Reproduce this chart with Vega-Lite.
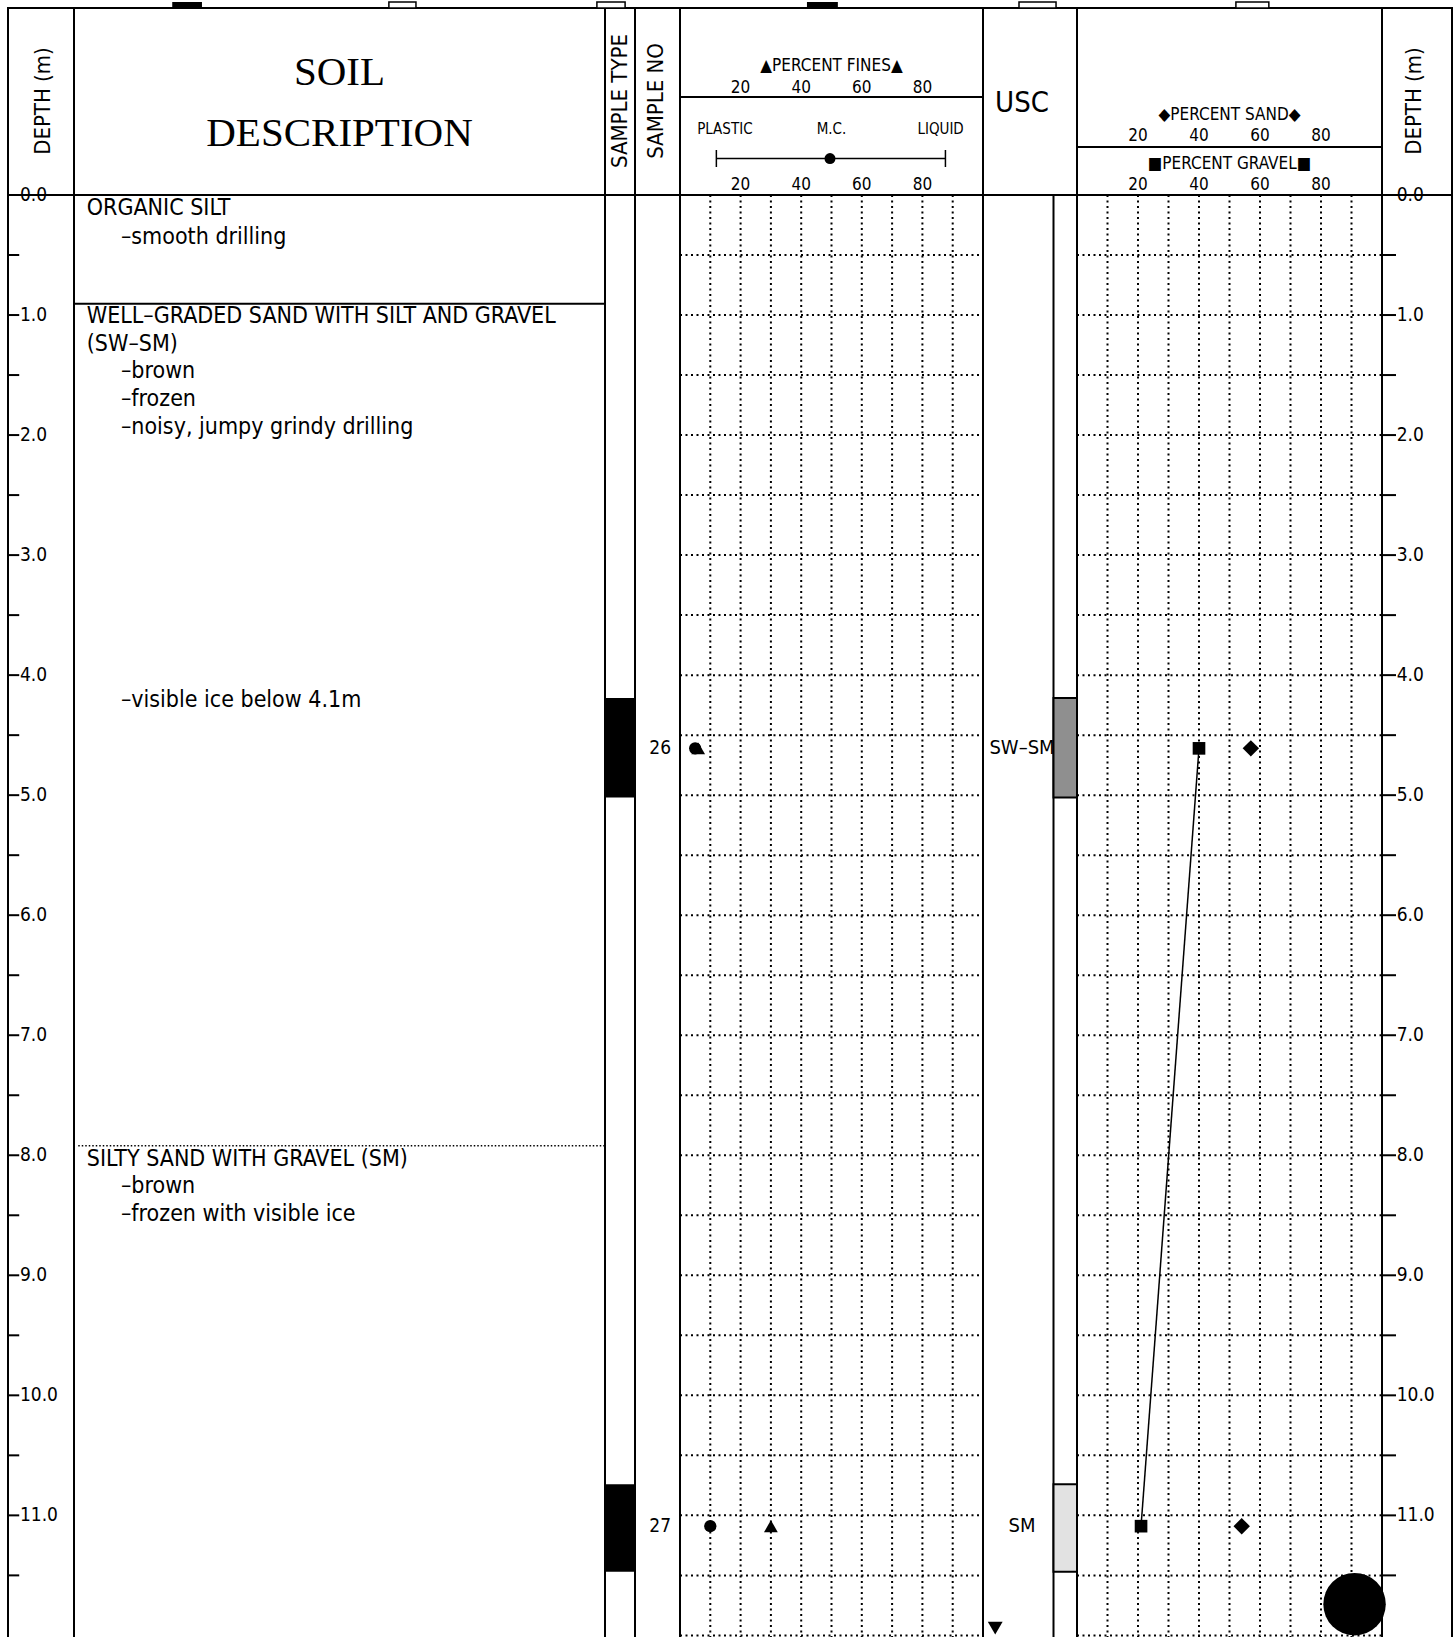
{
  "$schema": "https://vega.github.io/schema/vega-lite/v6.json",
  "padding": {"left": 6, "top": 0, "right": 0, "bottom": 0},
  "background": "white",
  "config": {
    "view": {"stroke": "black", "strokeWidth": 2},
    "text": {"font": "DejaVu Sans Condensed", "fill": "black"},
    "rule": {"color": "black", "strokeWidth": 2},
    "concat": {"spacing": 0}
  },
  "datasets": {
    "ticks": [
      {"d": 0, "lab": "0.0"}, {"d": 0.5, "lab": ""}, {"d": 1, "lab": "1.0"}, {"d": 1.5, "lab": ""},
      {"d": 2, "lab": "2.0"}, {"d": 2.5, "lab": ""}, {"d": 3, "lab": "3.0"}, {"d": 3.5, "lab": ""},
      {"d": 4, "lab": "4.0"}, {"d": 4.5, "lab": ""}, {"d": 5, "lab": "5.0"}, {"d": 5.5, "lab": ""},
      {"d": 6, "lab": "6.0"}, {"d": 6.5, "lab": ""}, {"d": 7, "lab": "7.0"}, {"d": 7.5, "lab": ""},
      {"d": 8, "lab": "8.0"}, {"d": 8.5, "lab": ""}, {"d": 9, "lab": "9.0"}, {"d": 9.5, "lab": ""},
      {"d": 10, "lab": "10.0"}, {"d": 10.5, "lab": ""}, {"d": 11, "lab": "11.0"}, {"d": 11.5, "lab": ""}
    ],
    "gy": [
      {"d": 0.5}, {"d": 1}, {"d": 1.5}, {"d": 2}, {"d": 2.5}, {"d": 3}, {"d": 3.5}, {"d": 4},
      {"d": 4.5}, {"d": 5}, {"d": 5.5}, {"d": 6}, {"d": 6.5}, {"d": 7}, {"d": 7.5}, {"d": 8},
      {"d": 8.5}, {"d": 9}, {"d": 9.5}, {"d": 10}, {"d": 10.5}, {"d": 11}, {"d": 11.5}, {"d": 12}
    ],
    "gx": [{"v": 10}, {"v": 20}, {"v": 30}, {"v": 40}, {"v": 50}, {"v": 60}, {"v": 70}, {"v": 80}, {"v": 90}],
    "pct": [{"v": 20, "l": "20"}, {"v": 40, "l": "40"}, {"v": 60, "l": "60"}, {"v": 80, "l": "80"}],
    "desc": [
      {"d": 0.105, "t": "ORGANIC SILT", "lvl": 0},
      {"d": 0.35, "t": "–smooth drilling", "lvl": 1},
      {"d": 1.01, "t": "WELL–GRADED SAND WITH SILT AND GRAVEL", "lvl": 0},
      {"d": 1.24, "t": "(SW–SM)", "lvl": 0},
      {"d": 1.47, "t": "–brown", "lvl": 1},
      {"d": 1.70, "t": "–frozen", "lvl": 1},
      {"d": 1.93, "t": "–noisy, jumpy grindy drilling", "lvl": 1},
      {"d": 4.21, "t": "–visible ice below 4.1m", "lvl": 1},
      {"d": 8.03, "t": "SILTY SAND WITH GRAVEL (SM)", "lvl": 0},
      {"d": 8.26, "t": "–brown", "lvl": 1},
      {"d": 8.49, "t": "–frozen with visible ice", "lvl": 1}
    ],
    "bounds": [{"d": 0.905, "kind": "solid"}, {"d": 7.92, "kind": "dotted"}],
    "samples": [
      {"no": "26", "top": 4.19, "bot": 5.02, "d": 4.61, "usc": "SW–SM", "mc": 5, "fines": 6, "gravel": 40, "sand": 57},
      {"no": "27", "top": 10.74, "bot": 11.47, "d": 11.09, "usc": "SM", "mc": 10, "fines": 30, "gravel": 21, "sand": 54}
    ],
    "blob": [{"pct": 91, "d": 11.74}],
    "water": [{"d": 11.94}]
  },
  "columns": 8,
  "spacing": 0,
  "bounds": "flush",
  "resolve": {"scale": {"x": "independent", "y": "independent"}},
  "concat": [
    {
      "width": 66, "height": 187,
      "data": {"values": [{}]},
      "mark": {"type": "text", "angle": 270, "fontSize": 22, "align": "center", "baseline": "middle"},
      "encoding": {
        "x": {"datum": 53, "type": "quantitative", "scale": {"domain": [0, 100], "nice": false}, "axis": null},
        "y": {"datum": 93, "type": "quantitative", "scale": {"domain": [0, 187], "reverse": true, "nice": false}, "axis": null},
        "text": {"value": "DEPTH (m)"}
      }
    },
    {
      "width": 531, "height": 187,
      "data": {"values": [{}]},
      "layer": [
        {
          "mark": {"type": "text", "font": "Liberation Serif", "fontSize": 41, "align": "center", "baseline": "middle"},
          "encoding": {
            "x": {"datum": 50, "type": "quantitative", "scale": {"domain": [0, 100], "nice": false}, "axis": null},
            "y": {"datum": 65, "type": "quantitative", "scale": {"domain": [0, 187], "reverse": true, "nice": false}, "axis": null},
            "text": {"value": "SOIL"}
          }
        },
        {
          "mark": {"type": "text", "font": "Liberation Serif", "fontSize": 41, "align": "center", "baseline": "middle"},
          "encoding": {
            "x": {"datum": 50, "type": "quantitative", "scale": {"domain": [0, 100], "nice": false}, "axis": null},
            "y": {"datum": 125.5, "type": "quantitative", "scale": {"domain": [0, 187], "reverse": true, "nice": false}, "axis": null},
            "text": {"value": "DESCRIPTION"}
          }
        },
        {
          "mark": {"type": "rect", "color": "black"},
          "encoding": {
            "x": {"datum": 18.5, "type": "quantitative", "scale": {"domain": [0, 100], "nice": false}, "axis": null},
            "x2": {"datum": 24.1},
            "y": {"datum": -6, "type": "quantitative", "scale": {"domain": [0, 187], "reverse": true, "nice": false}, "axis": null},
            "y2": {"datum": 0}
          }
        },
        {
          "mark": {"type": "rect", "fill": "white", "stroke": "black", "strokeWidth": 1.5},
          "encoding": {
            "x": {"datum": 59.3, "type": "quantitative", "scale": {"domain": [0, 100], "nice": false}, "axis": null},
            "x2": {"datum": 64.4},
            "y": {"datum": -6, "type": "quantitative", "scale": {"domain": [0, 187], "reverse": true, "nice": false}, "axis": null},
            "y2": {"datum": 0}
          }
        }
      ]
    },
    {
      "width": 30, "height": 187,
      "data": {"values": [{}]},
      "layer": [
        {
          "mark": {"type": "text", "angle": 270, "fontSize": 22, "align": "center", "baseline": "middle"},
          "encoding": {
            "x": {"datum": 50, "type": "quantitative", "scale": {"domain": [0, 100], "nice": false}, "axis": null},
            "y": {"datum": 93, "type": "quantitative", "scale": {"domain": [0, 187], "reverse": true, "nice": false}, "axis": null},
            "text": {"value": "SAMPLE TYPE"}
          }
        },
        {
          "mark": {"type": "rect", "fill": "white", "stroke": "black", "strokeWidth": 1.5},
          "encoding": {
            "x": {"datum": -27, "type": "quantitative", "scale": {"domain": [0, 100], "nice": false}, "axis": null},
            "x2": {"datum": 67},
            "y": {"datum": -6, "type": "quantitative", "scale": {"domain": [0, 187], "reverse": true, "nice": false}, "axis": null},
            "y2": {"datum": 0}
          }
        }
      ]
    },
    {
      "width": 45, "height": 187,
      "data": {"values": [{}]},
      "mark": {"type": "text", "angle": 270, "fontSize": 22, "align": "center", "baseline": "middle"},
      "encoding": {
        "x": {"datum": 47, "type": "quantitative", "scale": {"domain": [0, 100], "nice": false}, "axis": null},
        "y": {"datum": 93, "type": "quantitative", "scale": {"domain": [0, 187], "reverse": true, "nice": false}, "axis": null},
        "text": {"value": "SAMPLE NO"}
      }
    },
    {
      "width": 303, "height": 187,
      "data": {"values": [{}]},
      "layer": [
        {
          "mark": {"type": "text", "fontSize": 17, "align": "center", "baseline": "middle"},
          "encoding": {
            "x": {"datum": 50, "type": "quantitative", "scale": {"domain": [0, 100], "nice": false}, "axis": null},
            "y": {"datum": 57.7, "type": "quantitative", "scale": {"domain": [0, 187], "reverse": true, "nice": false}, "axis": null},
            "text": {"value": "▲PERCENT FINES▲"}
          }
        },
        {
          "data": {"name": "pct"},
          "mark": {"type": "text", "fontSize": 17, "align": "center", "baseline": "middle"},
          "encoding": {
            "x": {"field": "v", "type": "quantitative", "scale": {"domain": [0, 100], "nice": false}, "axis": null},
            "y": {"datum": 79.6, "type": "quantitative", "scale": {"domain": [0, 187], "reverse": true, "nice": false}, "axis": null},
            "text": {"field": "l"}
          }
        },
        {
          "mark": {"type": "rule", "strokeWidth": 2},
          "encoding": {
            "x": {"datum": 0, "type": "quantitative", "scale": {"domain": [0, 100], "nice": false}, "axis": null},
            "x2": {"datum": 100},
            "y": {"datum": 89, "type": "quantitative", "scale": {"domain": [0, 187], "reverse": true, "nice": false}, "axis": null}
          }
        },
        {
          "mark": {"type": "text", "fontSize": 15, "align": "center", "baseline": "middle"},
          "encoding": {
            "x": {"datum": 14.8, "type": "quantitative", "scale": {"domain": [0, 100], "nice": false}, "axis": null},
            "y": {"datum": 121.3, "type": "quantitative", "scale": {"domain": [0, 187], "reverse": true, "nice": false}, "axis": null},
            "text": {"value": "PLASTIC"}
          }
        },
        {
          "mark": {"type": "text", "fontSize": 15, "align": "center", "baseline": "middle"},
          "encoding": {
            "x": {"datum": 50, "type": "quantitative", "scale": {"domain": [0, 100], "nice": false}, "axis": null},
            "y": {"datum": 121.3, "type": "quantitative", "scale": {"domain": [0, 187], "reverse": true, "nice": false}, "axis": null},
            "text": {"value": "M.C."}
          }
        },
        {
          "mark": {"type": "text", "fontSize": 15, "align": "center", "baseline": "middle"},
          "encoding": {
            "x": {"datum": 86, "type": "quantitative", "scale": {"domain": [0, 100], "nice": false}, "axis": null},
            "y": {"datum": 121.3, "type": "quantitative", "scale": {"domain": [0, 187], "reverse": true, "nice": false}, "axis": null},
            "text": {"value": "LIQUID"}
          }
        },
        {
          "mark": {"type": "rule", "strokeWidth": 1.5},
          "encoding": {
            "x": {"datum": 12, "type": "quantitative", "scale": {"domain": [0, 100], "nice": false}, "axis": null},
            "x2": {"datum": 87.6},
            "y": {"datum": 150.6, "type": "quantitative", "scale": {"domain": [0, 187], "reverse": true, "nice": false}, "axis": null}
          }
        },
        {
          "mark": {"type": "rule", "strokeWidth": 1.5},
          "encoding": {
            "x": {"datum": 12, "type": "quantitative", "scale": {"domain": [0, 100], "nice": false}, "axis": null},
            "y": {"datum": 142, "type": "quantitative", "scale": {"domain": [0, 187], "reverse": true, "nice": false}, "axis": null},
            "y2": {"datum": 159}
          }
        },
        {
          "mark": {"type": "rule", "strokeWidth": 1.5},
          "encoding": {
            "x": {"datum": 87.6, "type": "quantitative", "scale": {"domain": [0, 100], "nice": false}, "axis": null},
            "y": {"datum": 142, "type": "quantitative", "scale": {"domain": [0, 187], "reverse": true, "nice": false}, "axis": null},
            "y2": {"datum": 159}
          }
        },
        {
          "mark": {"type": "point", "shape": "circle", "filled": true, "color": "black", "opacity": 1, "size": 121},
          "encoding": {
            "x": {"datum": 49.5, "type": "quantitative", "scale": {"domain": [0, 100], "nice": false}, "axis": null},
            "y": {"datum": 150.6, "type": "quantitative", "scale": {"domain": [0, 187], "reverse": true, "nice": false}, "axis": null}
          }
        },
        {
          "data": {"name": "pct"},
          "mark": {"type": "text", "fontSize": 17, "align": "center", "baseline": "middle"},
          "encoding": {
            "x": {"field": "v", "type": "quantitative", "scale": {"domain": [0, 100], "nice": false}, "axis": null},
            "y": {"datum": 176.6, "type": "quantitative", "scale": {"domain": [0, 187], "reverse": true, "nice": false}, "axis": null},
            "text": {"field": "l"}
          }
        },
        {
          "mark": {"type": "rect", "color": "black"},
          "encoding": {
            "x": {"datum": 41.9, "type": "quantitative", "scale": {"domain": [0, 100], "nice": false}, "axis": null},
            "x2": {"datum": 52.1},
            "y": {"datum": -6, "type": "quantitative", "scale": {"domain": [0, 187], "reverse": true, "nice": false}, "axis": null},
            "y2": {"datum": 0}
          }
        }
      ]
    },
    {
      "width": 94, "height": 187,
      "data": {"values": [{}]},
      "layer": [
        {
          "mark": {"type": "text", "fontSize": 29, "align": "center", "baseline": "middle"},
          "encoding": {
            "x": {"datum": 41.5, "type": "quantitative", "scale": {"domain": [0, 100], "nice": false}, "axis": null},
            "y": {"datum": 95, "type": "quantitative", "scale": {"domain": [0, 187], "reverse": true, "nice": false}, "axis": null},
            "text": {"value": "USC"}
          }
        },
        {
          "mark": {"type": "rect", "fill": "white", "stroke": "black", "strokeWidth": 1.5},
          "encoding": {
            "x": {"datum": 38.3, "type": "quantitative", "scale": {"domain": [0, 100], "nice": false}, "axis": null},
            "x2": {"datum": 77.7},
            "y": {"datum": -6, "type": "quantitative", "scale": {"domain": [0, 187], "reverse": true, "nice": false}, "axis": null},
            "y2": {"datum": 0}
          }
        }
      ]
    },
    {
      "width": 305, "height": 187,
      "data": {"values": [{}]},
      "layer": [
        {
          "mark": {"type": "text", "fontSize": 17, "align": "center", "baseline": "middle"},
          "encoding": {
            "x": {"datum": 50, "type": "quantitative", "scale": {"domain": [0, 100], "nice": false}, "axis": null},
            "y": {"datum": 106.7, "type": "quantitative", "scale": {"domain": [0, 187], "reverse": true, "nice": false}, "axis": null},
            "text": {"value": "◆PERCENT SAND◆"}
          }
        },
        {
          "data": {"name": "pct"},
          "mark": {"type": "text", "fontSize": 17, "align": "center", "baseline": "middle"},
          "encoding": {
            "x": {"field": "v", "type": "quantitative", "scale": {"domain": [0, 100], "nice": false}, "axis": null},
            "y": {"datum": 127.6, "type": "quantitative", "scale": {"domain": [0, 187], "reverse": true, "nice": false}, "axis": null},
            "text": {"field": "l"}
          }
        },
        {
          "mark": {"type": "rule", "strokeWidth": 2},
          "encoding": {
            "x": {"datum": 0, "type": "quantitative", "scale": {"domain": [0, 100], "nice": false}, "axis": null},
            "x2": {"datum": 100},
            "y": {"datum": 139, "type": "quantitative", "scale": {"domain": [0, 187], "reverse": true, "nice": false}, "axis": null}
          }
        },
        {
          "mark": {"type": "text", "fontSize": 17, "align": "center", "baseline": "middle"},
          "encoding": {
            "x": {"datum": 50, "type": "quantitative", "scale": {"domain": [0, 100], "nice": false}, "axis": null},
            "y": {"datum": 155.8, "type": "quantitative", "scale": {"domain": [0, 187], "reverse": true, "nice": false}, "axis": null},
            "text": {"value": "■PERCENT GRAVEL■"}
          }
        },
        {
          "data": {"name": "pct"},
          "mark": {"type": "text", "fontSize": 17, "align": "center", "baseline": "middle"},
          "encoding": {
            "x": {"field": "v", "type": "quantitative", "scale": {"domain": [0, 100], "nice": false}, "axis": null},
            "y": {"datum": 176.6, "type": "quantitative", "scale": {"domain": [0, 187], "reverse": true, "nice": false}, "axis": null},
            "text": {"field": "l"}
          }
        },
        {
          "mark": {"type": "rect", "fill": "white", "stroke": "black", "strokeWidth": 1.5},
          "encoding": {
            "x": {"datum": 52.1, "type": "quantitative", "scale": {"domain": [0, 100], "nice": false}, "axis": null},
            "x2": {"datum": 62.9},
            "y": {"datum": -6, "type": "quantitative", "scale": {"domain": [0, 187], "reverse": true, "nice": false}, "axis": null},
            "y2": {"datum": 0}
          }
        }
      ]
    },
    {
      "width": 70, "height": 187,
      "data": {"values": [{}]},
      "mark": {"type": "text", "angle": 270, "fontSize": 22, "align": "center", "baseline": "middle"},
      "encoding": {
        "x": {"datum": 46, "type": "quantitative", "scale": {"domain": [0, 100], "nice": false}, "axis": null},
        "y": {"datum": 93, "type": "quantitative", "scale": {"domain": [0, 187], "reverse": true, "nice": false}, "axis": null},
        "text": {"value": "DEPTH (m)"}
      }
    },
    {
      "width": 66, "height": 1444,
      "data": {"name": "ticks"},
      "layer": [
        {
          "mark": {"type": "rule", "strokeWidth": 2},
          "encoding": {
            "y": {"field": "d", "type": "quantitative", "scale": {"domain": [0, 12.03], "reverse": true, "nice": false}, "axis": null},
            "x": {"datum": 0, "type": "quantitative", "scale": {"domain": [0, 100], "nice": false}, "axis": null},
            "x2": {"datum": 17}
          }
        },
        {
          "mark": {"type": "text", "fontSize": 19, "align": "left", "baseline": "middle"},
          "encoding": {
            "y": {"field": "d", "type": "quantitative", "scale": {"domain": [0, 12.03], "reverse": true, "nice": false}, "axis": null},
            "x": {"datum": 18, "type": "quantitative", "scale": {"domain": [0, 100], "nice": false}, "axis": null},
            "text": {"field": "lab"}
          }
        }
      ]
    },
    {
      "width": 531, "height": 1444,
      "layer": [
        {
          "data": {"name": "bounds"},
          "transform": [{"filter": "datum.kind === 'solid'"}],
          "mark": {"type": "rule", "strokeWidth": 2},
          "encoding": {
            "y": {"field": "d", "type": "quantitative", "scale": {"domain": [0, 12.03], "reverse": true, "nice": false}, "axis": null},
            "x": {"datum": 0, "type": "quantitative", "scale": {"domain": [0, 100], "nice": false}, "axis": null},
            "x2": {"datum": 100}
          }
        },
        {
          "data": {"name": "bounds"},
          "transform": [{"filter": "datum.kind === 'dotted'"}],
          "mark": {"type": "rule", "strokeWidth": 1.5, "strokeDash": [1.5, 2]},
          "encoding": {
            "y": {"field": "d", "type": "quantitative", "scale": {"domain": [0, 12.03], "reverse": true, "nice": false}, "axis": null},
            "x": {"datum": 0.8, "type": "quantitative", "scale": {"domain": [0, 100], "nice": false}, "axis": null},
            "x2": {"datum": 100}
          }
        },
        {
          "data": {"name": "desc"},
          "transform": [{"filter": "datum.lvl === 0"}],
          "mark": {"type": "text", "fontSize": 23, "align": "left", "baseline": "middle"},
          "encoding": {
            "y": {"field": "d", "type": "quantitative", "scale": {"domain": [0, 12.03], "reverse": true, "nice": false}, "axis": null},
            "x": {"datum": 2.4, "type": "quantitative", "scale": {"domain": [0, 100], "nice": false}, "axis": null},
            "text": {"field": "t"}
          }
        },
        {
          "data": {"name": "desc"},
          "transform": [{"filter": "datum.lvl === 1"}],
          "mark": {"type": "text", "fontSize": 23, "align": "left", "baseline": "middle"},
          "encoding": {
            "y": {"field": "d", "type": "quantitative", "scale": {"domain": [0, 12.03], "reverse": true, "nice": false}, "axis": null},
            "x": {"datum": 8.85, "type": "quantitative", "scale": {"domain": [0, 100], "nice": false}, "axis": null},
            "text": {"field": "t"}
          }
        }
      ]
    },
    {
      "width": 30, "height": 1444,
      "data": {"name": "samples"},
      "mark": {"type": "rect", "color": "black"},
      "encoding": {
        "y": {"field": "top", "type": "quantitative", "scale": {"domain": [0, 12.03], "reverse": true, "nice": false}, "axis": null},
        "y2": {"field": "bot"},
        "x": {"datum": 0, "type": "quantitative", "scale": {"domain": [0, 100], "nice": false}, "axis": null},
        "x2": {"datum": 100}
      }
    },
    {
      "width": 45, "height": 1444,
      "data": {"name": "samples"},
      "mark": {"type": "text", "fontSize": 19, "align": "center", "baseline": "middle"},
      "encoding": {
        "y": {"field": "d", "type": "quantitative", "scale": {"domain": [0, 12.03], "reverse": true, "nice": false}, "axis": null},
        "x": {"datum": 56, "type": "quantitative", "scale": {"domain": [0, 100], "nice": false}, "axis": null},
        "text": {"field": "no"}
      }
    },
    {
      "width": 303, "height": 1444,
      "layer": [
        {
          "data": {"name": "gx"},
          "mark": {"type": "rule", "strokeWidth": 2, "strokeDash": [2, 3.5]},
          "encoding": {
            "x": {"field": "v", "type": "quantitative", "scale": {"domain": [0, 100], "nice": false}, "axis": null},
            "y": {"datum": 0, "type": "quantitative", "scale": {"domain": [0, 12.03], "reverse": true, "nice": false}, "axis": null},
            "y2": {"datum": 12.03}
          }
        },
        {
          "data": {"name": "gy"},
          "mark": {"type": "rule", "strokeWidth": 2, "strokeDash": [2, 3.5]},
          "encoding": {
            "y": {"field": "d", "type": "quantitative", "scale": {"domain": [0, 12.03], "reverse": true, "nice": false}, "axis": null},
            "x": {"datum": 0, "type": "quantitative", "scale": {"domain": [0, 100], "nice": false}, "axis": null},
            "x2": {"datum": 100}
          }
        },
        {
          "data": {"name": "samples"},
          "mark": {"type": "point", "shape": "circle", "filled": true, "color": "black", "opacity": 1, "size": 150},
          "encoding": {
            "x": {"field": "mc", "type": "quantitative", "scale": {"domain": [0, 100], "nice": false}, "axis": null},
            "y": {"field": "d", "type": "quantitative", "scale": {"domain": [0, 12.03], "reverse": true, "nice": false}, "axis": null}
          }
        },
        {
          "data": {"name": "samples"},
          "mark": {"type": "point", "shape": "triangle-up", "filled": true, "color": "black", "opacity": 1, "size": 190},
          "encoding": {
            "x": {"field": "fines", "type": "quantitative", "scale": {"domain": [0, 100], "nice": false}, "axis": null},
            "y": {"field": "d", "type": "quantitative", "scale": {"domain": [0, 12.03], "reverse": true, "nice": false}, "axis": null}
          }
        }
      ]
    },
    {
      "width": 94, "height": 1444,
      "layer": [
        {
          "data": {"values": [{}]},
          "mark": {"type": "rule", "strokeWidth": 2},
          "encoding": {
            "x": {"datum": 75, "type": "quantitative", "scale": {"domain": [0, 100], "nice": false}, "axis": null},
            "y": {"datum": 0, "type": "quantitative", "scale": {"domain": [0, 12.03], "reverse": true, "nice": false}, "axis": null},
            "y2": {"datum": 12.03}
          }
        },
        {
          "data": {"name": "samples"},
          "mark": {"type": "rect", "stroke": "black", "strokeWidth": 2},
          "encoding": {
            "y": {"field": "top", "type": "quantitative", "scale": {"domain": [0, 12.03], "reverse": true, "nice": false}, "axis": null},
            "y2": {"field": "bot"},
            "x": {"datum": 75, "type": "quantitative", "scale": {"domain": [0, 100], "nice": false}, "axis": null},
            "x2": {"datum": 100},
            "fill": {"field": "usc", "type": "nominal", "scale": {"domain": ["SW–SM", "SM"], "range": ["#8f8f8f", "#e2e2e2"]}, "legend": null}
          }
        },
        {
          "data": {"name": "samples"},
          "mark": {"type": "text", "fontSize": 20, "align": "center", "baseline": "middle"},
          "encoding": {
            "y": {"field": "d", "type": "quantitative", "scale": {"domain": [0, 12.03], "reverse": true, "nice": false}, "axis": null},
            "x": {"datum": 41.5, "type": "quantitative", "scale": {"domain": [0, 100], "nice": false}, "axis": null},
            "text": {"field": "usc"}
          }
        },
        {
          "data": {"name": "water"},
          "mark": {"type": "point", "shape": "triangle-down", "filled": true, "color": "black", "opacity": 1, "size": 220},
          "encoding": {
            "y": {"field": "d", "type": "quantitative", "scale": {"domain": [0, 12.03], "reverse": true, "nice": false}, "axis": null},
            "x": {"datum": 13, "type": "quantitative", "scale": {"domain": [0, 100], "nice": false}, "axis": null}
          }
        }
      ]
    },
    {
      "width": 305, "height": 1444,
      "layer": [
        {
          "data": {"name": "gx"},
          "mark": {"type": "rule", "strokeWidth": 2, "strokeDash": [2, 3.5]},
          "encoding": {
            "x": {"field": "v", "type": "quantitative", "scale": {"domain": [0, 100], "nice": false}, "axis": null},
            "y": {"datum": 0, "type": "quantitative", "scale": {"domain": [0, 12.03], "reverse": true, "nice": false}, "axis": null},
            "y2": {"datum": 12.03}
          }
        },
        {
          "data": {"name": "gy"},
          "mark": {"type": "rule", "strokeWidth": 2, "strokeDash": [2, 3.5]},
          "encoding": {
            "y": {"field": "d", "type": "quantitative", "scale": {"domain": [0, 12.03], "reverse": true, "nice": false}, "axis": null},
            "x": {"datum": 0, "type": "quantitative", "scale": {"domain": [0, 100], "nice": false}, "axis": null},
            "x2": {"datum": 100}
          }
        },
        {
          "data": {"name": "samples"},
          "mark": {"type": "line", "color": "black", "strokeWidth": 1.5},
          "encoding": {
            "x": {"field": "gravel", "type": "quantitative", "scale": {"domain": [0, 100], "nice": false}, "axis": null},
            "y": {"field": "d", "type": "quantitative", "scale": {"domain": [0, 12.03], "reverse": true, "nice": false}, "axis": null},
            "order": {"field": "d"}
          }
        },
        {
          "data": {"name": "samples"},
          "mark": {"type": "point", "shape": "square", "filled": true, "color": "black", "opacity": 1, "size": 160},
          "encoding": {
            "x": {"field": "gravel", "type": "quantitative", "scale": {"domain": [0, 100], "nice": false}, "axis": null},
            "y": {"field": "d", "type": "quantitative", "scale": {"domain": [0, 12.03], "reverse": true, "nice": false}, "axis": null}
          }
        },
        {
          "data": {"name": "samples"},
          "mark": {"type": "point", "shape": "diamond", "filled": true, "color": "black", "opacity": 1, "size": 270},
          "encoding": {
            "x": {"field": "sand", "type": "quantitative", "scale": {"domain": [0, 100], "nice": false}, "axis": null},
            "y": {"field": "d", "type": "quantitative", "scale": {"domain": [0, 12.03], "reverse": true, "nice": false}, "axis": null}
          }
        },
        {
          "data": {"name": "blob"},
          "mark": {"type": "point", "shape": "circle", "filled": true, "color": "black", "opacity": 1, "size": 3900},
          "encoding": {
            "x": {"field": "pct", "type": "quantitative", "scale": {"domain": [0, 100], "nice": false}, "axis": null},
            "y": {"field": "d", "type": "quantitative", "scale": {"domain": [0, 12.03], "reverse": true, "nice": false}, "axis": null}
          }
        }
      ]
    },
    {
      "width": 70, "height": 1444,
      "data": {"name": "ticks"},
      "layer": [
        {
          "mark": {"type": "rule", "strokeWidth": 2},
          "encoding": {
            "y": {"field": "d", "type": "quantitative", "scale": {"domain": [0, 12.03], "reverse": true, "nice": false}, "axis": null},
            "x": {"datum": 0, "type": "quantitative", "scale": {"domain": [0, 100], "nice": false}, "axis": null},
            "x2": {"datum": 20}
          }
        },
        {
          "mark": {"type": "text", "fontSize": 19, "align": "left", "baseline": "middle"},
          "encoding": {
            "y": {"field": "d", "type": "quantitative", "scale": {"domain": [0, 12.03], "reverse": true, "nice": false}, "axis": null},
            "x": {"datum": 21, "type": "quantitative", "scale": {"domain": [0, 100], "nice": false}, "axis": null},
            "text": {"field": "lab"}
          }
        }
      ]
    }
  ]
}
